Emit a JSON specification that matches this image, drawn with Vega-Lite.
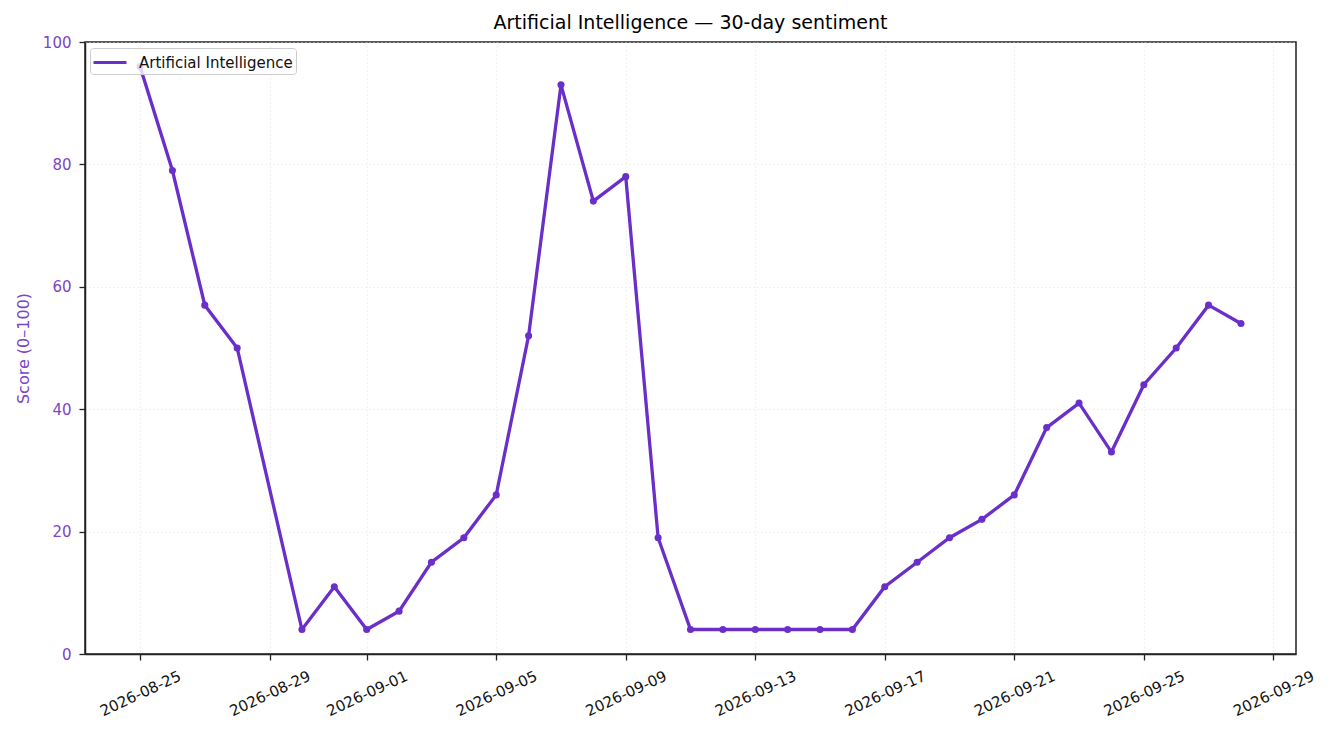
{
  "$schema": "https://vega.github.io/schema/vega-lite/v6.json",
  "width": 1211,
  "height": 612,
  "autosize": {"type": "none"},
  "padding": {"left": 85, "top": 42, "right": 35, "bottom": 81},
  "background": "white",
  "title": {
    "text": "Artificial Intelligence — 30-day sentiment",
    "font": "DejaVu Sans",
    "fontSize": 19,
    "fontWeight": "normal",
    "color": "black",
    "offset": 2
  },
  "config": {
    "font": "DejaVu Sans",
    "view": {"stroke": "#222222", "strokeWidth": 1.5}
  },
  "data": {
    "values": [
      {"date": "2026-08-25", "score": 96, "series": "Artificial Intelligence"},
      {"date": "2026-08-26", "score": 79, "series": "Artificial Intelligence"},
      {"date": "2026-08-27", "score": 57, "series": "Artificial Intelligence"},
      {"date": "2026-08-28", "score": 50, "series": "Artificial Intelligence"},
      {"date": "2026-08-30", "score": 4, "series": "Artificial Intelligence"},
      {"date": "2026-08-31", "score": 11, "series": "Artificial Intelligence"},
      {"date": "2026-09-01", "score": 4, "series": "Artificial Intelligence"},
      {"date": "2026-09-02", "score": 7, "series": "Artificial Intelligence"},
      {"date": "2026-09-03", "score": 15, "series": "Artificial Intelligence"},
      {"date": "2026-09-04", "score": 19, "series": "Artificial Intelligence"},
      {"date": "2026-09-05", "score": 26, "series": "Artificial Intelligence"},
      {"date": "2026-09-06", "score": 52, "series": "Artificial Intelligence"},
      {"date": "2026-09-07", "score": 93, "series": "Artificial Intelligence"},
      {"date": "2026-09-08", "score": 74, "series": "Artificial Intelligence"},
      {"date": "2026-09-09", "score": 78, "series": "Artificial Intelligence"},
      {"date": "2026-09-10", "score": 19, "series": "Artificial Intelligence"},
      {"date": "2026-09-11", "score": 4, "series": "Artificial Intelligence"},
      {"date": "2026-09-12", "score": 4, "series": "Artificial Intelligence"},
      {"date": "2026-09-13", "score": 4, "series": "Artificial Intelligence"},
      {"date": "2026-09-14", "score": 4, "series": "Artificial Intelligence"},
      {"date": "2026-09-15", "score": 4, "series": "Artificial Intelligence"},
      {"date": "2026-09-16", "score": 4, "series": "Artificial Intelligence"},
      {"date": "2026-09-17", "score": 11, "series": "Artificial Intelligence"},
      {"date": "2026-09-18", "score": 15, "series": "Artificial Intelligence"},
      {"date": "2026-09-19", "score": 19, "series": "Artificial Intelligence"},
      {"date": "2026-09-20", "score": 22, "series": "Artificial Intelligence"},
      {"date": "2026-09-21", "score": 26, "series": "Artificial Intelligence"},
      {"date": "2026-09-22", "score": 37, "series": "Artificial Intelligence"},
      {"date": "2026-09-23", "score": 41, "series": "Artificial Intelligence"},
      {"date": "2026-09-24", "score": 33, "series": "Artificial Intelligence"},
      {"date": "2026-09-25", "score": 44, "series": "Artificial Intelligence"},
      {"date": "2026-09-26", "score": 50, "series": "Artificial Intelligence"},
      {"date": "2026-09-27", "score": 57, "series": "Artificial Intelligence"},
      {"date": "2026-09-28", "score": 54, "series": "Artificial Intelligence"}
    ]
  },
  "encoding": {
    "x": {
      "field": "date",
      "type": "temporal",
      "title": null,
      "scale": {
        "type": "utc",
        "domain": [
          {"year": 2026, "month": 8, "date": 23, "hours": 7, "minutes": 12, "utc": true},
          {"year": 2026, "month": 9, "date": 29, "hours": 16, "minutes": 48, "utc": true}
        ]
      },
      "axis": {
        "values": [
          {"year": 2026, "month": 8, "date": 25, "utc": true},
          {"year": 2026, "month": 8, "date": 29, "utc": true},
          {"year": 2026, "month": 9, "date": 1, "utc": true},
          {"year": 2026, "month": 9, "date": 5, "utc": true},
          {"year": 2026, "month": 9, "date": 9, "utc": true},
          {"year": 2026, "month": 9, "date": 13, "utc": true},
          {"year": 2026, "month": 9, "date": 17, "utc": true},
          {"year": 2026, "month": 9, "date": 21, "utc": true},
          {"year": 2026, "month": 9, "date": 25, "utc": true},
          {"year": 2026, "month": 9, "date": 29, "utc": true}
        ],
        "labelExpr": "utcFormat(datum.value, '%Y-%m-%d')",
        "labelAngle": -25,
        "labelAlign": "center",
        "labelBaseline": "middle",
        "labelPadding": 33,
        "labelFontSize": 15,
        "labelColor": "#111111",
        "labelFont": "DejaVu Sans",
        "labelOverlap": false,
        "labelBound": false,
        "labelFlush": false,
        "tickColor": "#222222",
        "tickSize": 6,
        "tickWidth": 1.3,
        "domainColor": "#222222",
        "domainWidth": 1.5,
        "grid": true,
        "gridColor": "#dddddd",
        "gridDash": [1, 3],
        "gridWidth": 0.8
      }
    },
    "y": {
      "field": "score",
      "type": "quantitative",
      "title": "Score (0–100)",
      "scale": {"domain": [0, 100], "nice": false, "zero": true},
      "axis": {
        "values": [0, 20, 40, 60, 80, 100],
        "titleColor": "#7b45c6",
        "titleFont": "DejaVu Sans",
        "titleFontSize": 16,
        "titleFontWeight": "normal",
        "titlePadding": 11,
        "labelColor": "#7b45c6",
        "labelFont": "DejaVu Sans",
        "labelFontSize": 15,
        "labelPadding": 8,
        "tickColor": "#222222",
        "tickSize": 6,
        "tickWidth": 1.3,
        "domainColor": "#222222",
        "domainWidth": 1.5,
        "grid": true,
        "gridColor": "#dddddd",
        "gridDash": [1, 3],
        "gridWidth": 0.8
      }
    },
    "color": {
      "field": "series",
      "type": "nominal",
      "scale": {"range": ["#6a2ec9"]},
      "legend": {
        "title": null,
        "orient": "none",
        "legendX": 5,
        "legendY": 6,
        "symbolType": "M-1.1,0H2.2",
        "symbolSize": 400,
        "symbolStrokeWidth": 3,
        "symbolStrokeColor": "#6a2ec9",
        "symbolFillColor": "transparent",
        "labelFont": "DejaVu Sans",
        "labelFontSize": 15,
        "labelColor": "#111111",
        "fillColor": "rgba(255,255,255,0.8)",
        "strokeColor": "#cccccc",
        "cornerRadius": 3,
        "padding": 3,
        "labelOffset": 23
      }
    }
  },
  "layer": [
    {"mark": {"type": "line", "strokeWidth": 3.3}},
    {"mark": {"type": "point", "filled": true, "size": 50, "opacity": 1}, "encoding": {"color": {"value": "#6a2ec9"}}}
  ]
}
